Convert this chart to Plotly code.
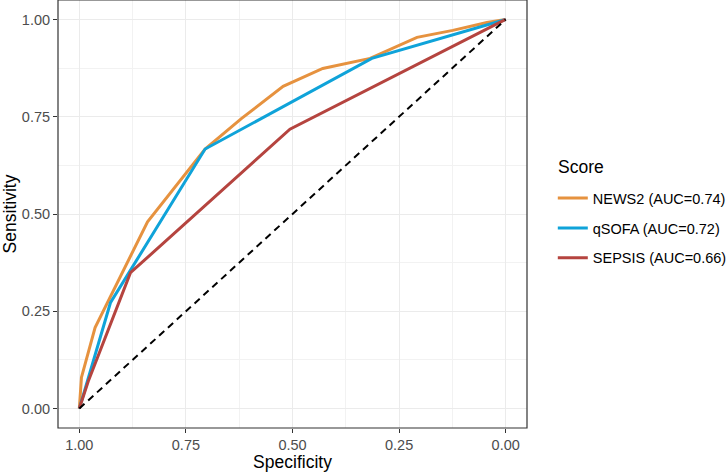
import plotly.graph_objects as go

# ROC curve vertices
news2_spec = [1.00, 0.995, 0.963, 0.84, 0.705, 0.62, 0.522, 0.429, 0.318, 0.208, 0.124, 0.044, 0.00]
news2_sens = [0.00, 0.08, 0.208, 0.48, 0.667, 0.745, 0.828, 0.874, 0.90, 0.954, 0.972, 0.992, 1.00]

qsofa_spec = [1.00, 0.927, 0.705, 0.314, 0.00]
qsofa_sens = [0.00, 0.272, 0.667, 0.90, 1.00]

sepsis_spec = [1.00, 0.979, 0.88, 0.506, 0.00]
sepsis_sens = [0.00, 0.07, 0.349, 0.718, 1.00]

series_names = ["NEWS2 (AUC=0.74)", "qSOFA (AUC=0.72)", "SEPSIS (AUC=0.66)"]
series_colors = ["#E6923F", "#0FA3D9", "#B5443F"]
legend_title = "Score"

ref_x = [1.0, 0.0]
ref_y = [0.0, 1.0]

tick_vals = [0.0, 0.25, 0.5, 0.75, 1.0]
tick_text = ["0.00", "0.25", "0.50", "0.75", "1.00"]
minor_vals = [0.125, 0.375, 0.625, 0.875]

FONT = "Liberation Sans, Arial, sans-serif"

fig = go.Figure()
data = [(news2_spec, news2_sens), (qsofa_spec, qsofa_sens), (sepsis_spec, sepsis_sens)]
for (xs, ys), name, col in zip(data, series_names, series_colors):
    fig.add_trace(go.Scatter(x=xs, y=ys, mode="lines", name=name, legendgroup=name,
                             line=dict(color=col, width=3)))
fig.add_trace(go.Scatter(x=ref_x, y=ref_y, mode="lines", showlegend=False,
                         line=dict(color="black", width=2, dash="7px,5px")))

axis_common = dict(
    tickvals=tick_vals, ticktext=tick_text,
    showgrid=True, gridcolor="#EBEBEB", gridwidth=1.1,
    minor=dict(tickvals=minor_vals, showgrid=True, gridcolor="#F2F2F2", gridwidth=0.6, ticks=""),
    zeroline=False, showline=False,
    ticks="outside", ticklen=4, tickwidth=1.1, tickcolor="#333333",
    tickfont=dict(family=FONT, size=14.5, color="#4D4D4D"),
    title_font=dict(family=FONT, size=17.5, color="black"),
)

fig.update_xaxes(range=[1.05, -0.05], title_text="Specificity", title_standoff=3, **axis_common)
fig.update_yaxes(range=[-0.05, 1.05], title_text="Sensitivity", title_standoff=6, **axis_common)

# panel border
fig.add_shape(type="rect", xref="paper", yref="paper", x0=0, x1=1, y0=0, y1=1,
              line=dict(color="#333333", width=1.2), fillcolor="rgba(0,0,0,0)", layer="above")

# legend title
fig.add_annotation(text=legend_title, xref="paper", yref="paper", x=1.062, y=0.61,
                   xanchor="left", yanchor="middle", showarrow=False,
                   font=dict(family=FONT, size=17.5, color="black"))

fig.update_layout(
    width=727, height=472,
    margin=dict(l=58, r=200, t=0, b=44, autoexpand=False),
    paper_bgcolor="white", plot_bgcolor="white",
    font=dict(family=FONT),
    legend=dict(
        font=dict(family=FONT, size=14.5, color="black"),
        x=1.055, xanchor="left", y=0.467, yanchor="middle",
        tracegroupgap=8, itemwidth=30,
    ),
)

fig.write_html("out.html")
